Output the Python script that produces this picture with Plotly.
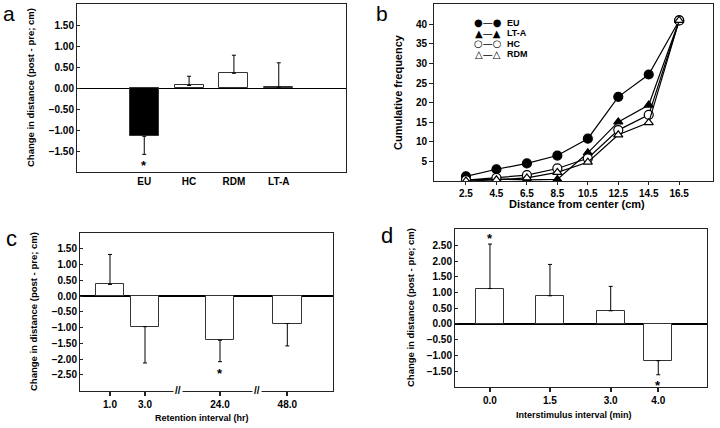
import plotly.graph_objects as go

# ---------------- data ----------------
a_groups = ["EU", "HC", "RDM", "LT-A"]
a_means = [-1.15, 0.06, 0.35, 0.02]
a_errs = [0.43, 0.22, 0.43, 0.58]

b_distance = [2.5, 4.5, 6.5, 8.5, 10.5, 12.5, 14.5, 16.5]
b_eu = [1.2, 3.0, 4.5, 6.5, 10.8, 21.5, 27.2, 41.0]
b_lta = [0.2, 0.5, 0.3, 0.4, 7.2, 15.1, 19.4, 41.0]
b_hc = [0.2, 0.8, 1.5, 3.2, 5.8, 13.0, 16.9, 41.0]
b_rdm = [0.0, 0.3, 0.8, 2.2, 4.8, 11.8, 14.9, 41.0]

c_intervals = ["1.0", "3.0", "24.0", "48.0"]
c_means = [0.37, -0.97, -1.40, -0.87]
c_errs = [0.95, 1.15, 0.68, 0.71]

d_intervals = ["0.0", "1.5", "3.0", "4.0"]
d_means = [1.13, 0.90, 0.42, -1.17]
d_errs = [1.42, 1.00, 0.78, 0.45]

# ---------------- layout helpers ----------------
W, H = 720, 428
def xd(p0, p1):
    return [p0 / W, p1 / W]
def yd(p0, p1):
    return [1 - p1 / H, 1 - p0 / H]

# slot positions for the (broken) categorical axes
c_slots = [0, 1, 3.143, 5.066]
d_slots = [0, 1, 2.012, 2.805]
a_slots = [0, 1, 2, 3]

FONT = "Liberation Sans, Arial, sans-serif"
LINE = "#222"

def one_sided(means, errs):
    up = [e if m >= 0 else 0 for m, e in zip(means, errs)]
    dn = [e if m < 0 else 0 for m, e in zip(means, errs)]
    return dict(type="data", symmetric=False, array=up, arrayminus=dn,
                color="black", thickness=1, width=2)

fig = go.Figure()

# panel a
fig.add_trace(go.Bar(
    x=a_slots, y=a_means, width=0.65,
    marker=dict(color=["black", "white", "white", "white"],
                line=dict(color="#333", width=1)),
    error_y=one_sided(a_means, a_errs),
    xaxis="x", yaxis="y", showlegend=False))

# panel b
b_series = [
    ("EU", b_eu, "circle", "black", 9, "\u25CF\u2014\u25CF"),
    ("LT-A", b_lta, "triangle-up", "black", 8, "\u25B2\u2014\u25B2"),
    ("HC", b_hc, "circle", "white", 9, "\u25CB\u2014\u25CB"),
    ("RDM", b_rdm, "triangle-up", "white", 8, "\u25B3\u2014\u25B3"),
]
for name, vals, sym, fill, size, _ in b_series:
    fig.add_trace(go.Scatter(
        x=b_distance, y=vals, name=name, mode="lines+markers",
        line=dict(color="black", width=1.2),
        marker=dict(symbol=sym, color=fill, size=size,
                    line=dict(color="black", width=1.2)),
        xaxis="x2", yaxis="y2", showlegend=False))

# panel c
fig.add_trace(go.Bar(
    x=c_slots, y=c_means, width=0.82,
    marker=dict(color="white", line=dict(color="#333", width=1)),
    error_y=one_sided(c_means, c_errs),
    xaxis="x3", yaxis="y3", showlegend=False))

# panel d
fig.add_trace(go.Bar(
    x=d_slots, y=d_means, width=0.47,
    marker=dict(color="white", line=dict(color="#333", width=1)),
    error_y=one_sided(d_means, d_errs),
    xaxis="x4", yaxis="y4", showlegend=False))

tickf = dict(family=FONT, size=10, color="black", weight="bold")
frame = dict(showline=True, linecolor=LINE, linewidth=1, mirror=True,
             showgrid=False, tickfont=tickf)

fig.update_layout(
    width=W, height=H, margin=dict(l=0, r=0, t=0, b=0),
    paper_bgcolor="white", plot_bgcolor="white",
    font=dict(family=FONT, color="black"),
    bargap=0, showlegend=False,
    # a
    xaxis=dict(domain=xd(77, 346), anchor="y", range=[-1.5, 4.5],
               tickvals=a_slots, ticktext=a_groups, ticks="", zeroline=False,
               **frame),
    yaxis=dict(domain=yd(4, 172), anchor="x", range=[-2, 2],
               tickvals=[-1.5, -1, -0.5, 0, 0.5, 1, 1.5], tickformat=".2f",
               ticks="inside", ticklen=3, tickcolor=LINE,
               zeroline=True, zerolinecolor="black", zerolinewidth=1.2,
               **frame),
    # b
    xaxis2=dict(domain=xd(434, 712.7), anchor="y2", range=[0.4, 18.7],
                tickvals=b_distance, ticktext=[f"{v:.1f}" for v in b_distance],
                ticks="outside", ticklen=3, tickcolor=LINE, zeroline=False,
                **frame),
    yaxis2=dict(domain=yd(4, 181), anchor="x2", range=[0, 45.2],
                tickvals=[5, 10, 15, 20, 25, 30, 35, 40],
                ticks="outside", ticklen=4, tickcolor=LINE, zeroline=False,
                **frame),
    # c
    xaxis3=dict(domain=xd(80, 333), anchor="y3", range=[-0.857, 6.371],
                tickvals=c_slots, ticktext=c_intervals,
                ticks="outside", ticklen=4, tickcolor=LINE, tickwidth=1.5,
                zeroline=False, **frame),
    yaxis3=dict(domain=yd(233, 390.7), anchor="x3", range=[-3, 2],
                tickvals=[-2.5, -2, -1.5, -1, -0.5, 0, 0.5, 1, 1.5],
                tickformat=".2f", ticks="inside", ticklen=3, tickcolor=LINE,
                zeroline=True, zerolinecolor="black", zerolinewidth=1.5,
                **frame),
    # d
    xaxis4=dict(domain=xd(455, 706.7), anchor="y4", range=[-0.583, 3.612],
                tickvals=d_slots, ticktext=d_intervals,
                ticks="outside", ticklen=4, tickcolor=LINE, tickwidth=1.5,
                zeroline=False, **frame),
    yaxis4=dict(domain=yd(229, 387.3), anchor="x4", range=[-2.02, 3.03],
                tickvals=[-1.5, -1, -0.5, 0, 0.5, 1, 1.5, 2, 2.5],
                tickformat=".2f", ticks="inside", ticklen=3, tickcolor=LINE,
                zeroline=True, zerolinecolor="black", zerolinewidth=1.5,
                **frame),
)

ann = []
def text_at(text, x, y, size, angle=0, bold=False, xanchor="center",
            yanchor="middle", family=FONT):
    f = dict(size=size, family=family, color="black")
    if bold:
        f["weight"] = "bold"
    ann.append(dict(text=text, x=x / W, y=1 - y / H, xref="paper", yref="paper",
                    showarrow=False, textangle=angle, xanchor=xanchor,
                    yanchor=yanchor, font=f))

# panel letters
text_at("a", 9, 0, 21, yanchor="top")
text_at("b", 382, 0, 21, yanchor="top")
text_at("c", 11, 238, 22)
text_at("d", 387, 235, 22)

# axis titles
text_at("Change in distance (post - pre; cm)", 30, 88, 9.5, -90, True)
text_at("Cumulative frequency", 398, 92, 11, -90, True)
text_at("Distance from center (cm)", 577, 204, 11, 0, True)
text_at("Change in distance (post - pre; cm)", 33, 312, 9.5, -90, True)
text_at("Retention interval (hr)", 202, 418, 9, 0, True)
text_at("Change in distance (post - pre; cm)", 410, 308, 9.5, -90, True)
text_at("Interstimulus interval (min)", 574, 415, 9, 0, True)

# legend of panel b (symbol - line - symbol, name)
for i, (name, *_rest) in enumerate(b_series):
    glyph = _rest[-1]
    yrow = 22.7 + i * 10.5
    text_at(glyph, 487.5, yrow, 10, family="DejaVu Sans")
    text_at(name, 505, yrow, 9, bold=True, xanchor="left")

# significance asterisks (anchored on error-bar ends)
def star(xref, yref, x, y, shift):
    ann.append(dict(text="*", x=x, y=y, xref=xref, yref=yref, showarrow=False,
                    xanchor="center", yanchor="middle", yshift=shift,
                    font=dict(size=13, family=FONT, color="black",
                              weight="bold")))

star("x", "y", a_slots[0], a_means[0] - a_errs[0], -11)
star("x3", "y3", c_slots[2], c_means[2] - c_errs[2], -12)
star("x4", "y4", d_slots[0], d_means[0] + d_errs[0], 6)
star("x4", "y4", d_slots[3], d_means[3] - d_errs[3], -11)

# axis break marks on panel c
for bx in [1.934, 4.19]:
    ann.append(dict(text="//", x=bx, y=0, xref="x3", yref="y3 domain",
                    showarrow=False, xanchor="center", yanchor="middle",
                    bgcolor="white",
                    font=dict(size=10, family=FONT, color="black", weight="bold")))

fig.update_layout(annotations=ann)
fig.write_html("out.html",
               config={"displayModeBar": False},
               post_script="document.body.style.margin='0';"
                           "document.body.style.overflow='hidden';")
